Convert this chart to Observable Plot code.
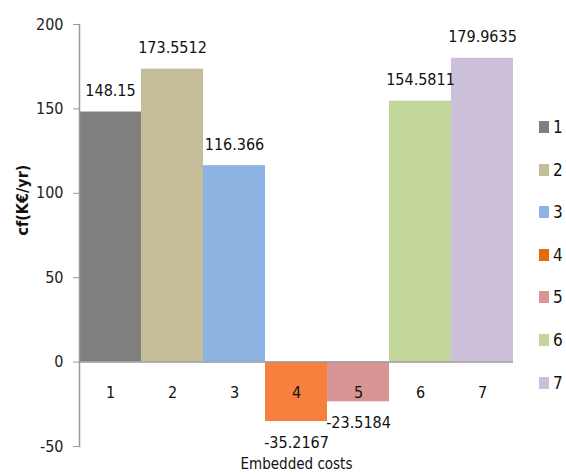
<!DOCTYPE html>
<html>
<head>
<meta charset="utf-8">
<script src="https://cdn.jsdelivr.net/npm/d3@7"></script>
<script src="https://cdn.jsdelivr.net/npm/@observablehq/plot@0.6"></script>
<style>
  html, body { margin: 0; padding: 0; background: #fff; }
  #wrap { position: relative; width: 566px; height: 474px; font-family: "DejaVu Sans Condensed", "Liberation Sans Narrow", sans-serif; }
  #legend { position: absolute; left: 539px; top: 0; }
  .item { position: absolute; left: 0; display: flex; align-items: center; font-size: 17px; color: #111; white-space: nowrap; }
  .sw { width: 10px; height: 12px; margin-right: 4px; }
</style>
</head>
<body>
<div id="wrap"><div id="legend"></div></div>
<script>
const categories = ["1", "2", "3", "4", "5", "6", "7"];
const values = [148.15, 173.5512, 116.366, -35.2167, -23.5184, 154.5811, 179.9635];
const valueLabels = ["148.15", "173.5512", "116.366", "-35.2167", "-23.5184", "154.5811", "179.9635"];
const barColors = ["#7f7f7f", "#c4bd97", "#8db3e2", "#f8803f", "#d99594", "#c3d69b", "#ccc0da"];
const legendColors = ["#7f7f7f", "#c4bd97", "#8db3e2", "#e36c09", "#d99594", "#c3d69b", "#ccc0da"];
const yTicks = [-50, 0, 50, 100, 150, 200];
const xTitle = "Embedded costs";
const yTitle = "cf(K€/yr)";

const data = categories.map((c, i) => ({cat: c, value: values[i], label: valueLabels[i], color: barColors[i]}));
const font = '"DejaVu Sans Condensed", "Liberation Sans Narrow", sans-serif';

const chart = Plot.plot({
  width: 566,
  height: 474,
  marginLeft: 79,
  marginRight: 53,
  marginTop: 24,
  marginBottom: 28,
  style: {fontFamily: font, fontSize: "16px", color: "#111", background: "#fff", overflow: "visible"},
  x: {domain: categories, padding: 0, axis: null},
  y: {domain: [-50, 200], axis: null},
  marks: [
    Plot.barY(data, {x: "cat", y: "value", fill: "color"}),
    Plot.ruleY([0], {stroke: "#9a9a9a", strokeWidth: 1.5}),
    Plot.frame({anchor: "left", stroke: "#9a9a9a", strokeWidth: 1.5}),
    Plot.axisY({ticks: yTicks, tickSize: 6, stroke: "#9a9a9a", tickFormat: d => String(d), fontSize: 16, fill: "#222", label: null, tickPadding: 10}),
    Plot.text(data, {x: "cat", y: 0, text: "cat", dy: 31, fontSize: 16, fill: "#111"}),
    Plot.text(data.filter(d => d.value >= 0), {x: "cat", y: "value", text: "label", dy: -21, fontSize: 16, fill: "#111"}),
    Plot.text(data.filter(d => d.value < 0), {x: "cat", y: "value", text: "label", dy: 21, fontSize: 16, fill: "#111"}),
    Plot.text([xTitle], {frameAnchor: "bottom", text: d => d, dy: 22, fontSize: 15, fill: "#111"}),
    Plot.text([yTitle], {frameAnchor: "left", text: d => d, dx: -57, rotate: -90, fontSize: 16, fontWeight: "bold", fill: "#111"})
  ]
});
document.getElementById("wrap").prepend(chart);

const legend = document.getElementById("legend");
const legendY = [127, 170, 212, 255, 297, 340, 383];
categories.forEach((c, i) => {
  const it = document.createElement("div");
  it.className = "item";
  it.style.top = (legendY[i] - 10) + "px";
  it.innerHTML = `<span class="sw" style="background:${legendColors[i]}"></span><span>${c}</span>`;
  legend.appendChild(it);
});
</script>
</body>
</html>
